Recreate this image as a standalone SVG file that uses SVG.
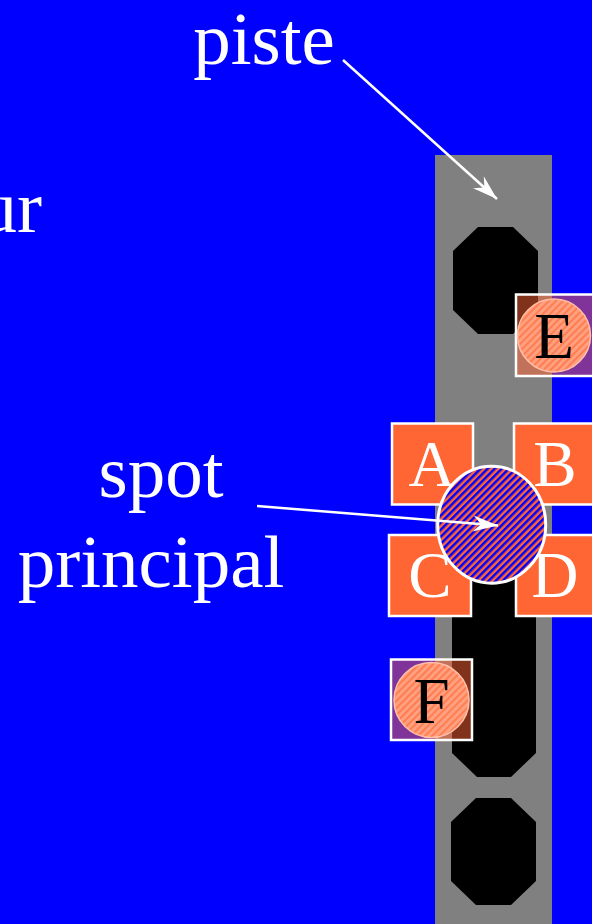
<svg xmlns="http://www.w3.org/2000/svg" width="592" height="924" viewBox="0 0 592 924">
<style>
.lbl{font-family:"Liberation Serif","Times New Roman",serif;fill:#fff;font-size:75px}
.let{font-family:"Liberation Serif","Times New Roman",serif;font-size:65px;text-anchor:middle}
.sq{fill:#ff6633;stroke:#fff;stroke-width:2.5}
.sqt{fill:#ff6633;fill-opacity:0.5;stroke:#fff;stroke-width:2.5}
.pad{fill:#000}
.conn{stroke:#fff;stroke-width:2.5;fill:none;marker-end:url(#ah)}
</style>
<defs>
<pattern id="stripes" width="5" height="5" patternUnits="userSpaceOnUse" patternTransform="rotate(45)">
<rect width="5" height="5" fill="#ff6633"/>
<rect width="2.5" height="5" fill="#0000ff"/>
</pattern>
<pattern id="salmon" width="5" height="5" patternUnits="userSpaceOnUse" patternTransform="rotate(45)">
<rect width="5" height="5" fill="#ffa080"/>
<rect width="1.8" height="5" fill="#ff7a4c"/>
</pattern>
<marker id="ah" markerWidth="28" markerHeight="20" refX="0" refY="0" viewBox="-26 -10 28 20" orient="auto" markerUnits="userSpaceOnUse">
<path d="M0,0 L-25,-8 L-17,0 L-25,8 Z" fill="#fff"/>
</marker>
</defs>
<rect width="592" height="924" fill="#0000ff"/>
<g id="piste-strip">
<rect x="435" y="155" width="117" height="769" fill="#808080"/>
<polygon class="pad" points="478,227 513,227 538,251 538,310 513,334 478,334 453,310 453,251"/>
<polygon class="pad" points="477,480 511,480 536,504 536,753 511,777 477,777 452,753 452,504"/>
<polygon class="pad" points="476,798 511,798 536,822 536,881 511,905 476,905 451,881 451,822"/>
</g>
<g id="E">
<rect class="sqt" x="516" y="294.5" width="81" height="81.5"/>
<circle cx="554" cy="335.5" r="36.5" fill="url(#salmon)" stroke="#ffc0a8" stroke-width="1.5"/>
<text class="let" x="554" y="358" fill="#000">E</text>
</g>
<g id="F">
<rect class="sqt" x="391" y="659.5" width="81" height="80.5"/>
<circle cx="431.5" cy="700" r="37.5" fill="url(#salmon)" stroke="#ffc0a8" stroke-width="1.5"/>
<text class="let" x="431.5" y="723" fill="#000">F</text>
</g>
<g id="A">
<rect class="sq" x="392" y="423.5" width="81" height="81"/>
<text class="let" x="432" y="486" fill="#fff">A</text>
</g>
<g id="B">
<rect class="sq" x="514" y="423.5" width="82" height="81"/>
<text class="let" x="555" y="486" fill="#fff">B</text>
</g>
<g id="C">
<rect class="sq" x="389" y="535" width="82" height="81"/>
<text class="let" x="430" y="597" fill="#fff">C</text>
</g>
<g id="D">
<rect class="sq" x="516" y="535" width="81" height="81"/>
<text class="let" x="555" y="597" fill="#fff">D</text>
</g>
<g id="spot">
<ellipse cx="491.7" cy="524.7" rx="54" ry="58.5" fill="url(#stripes)" stroke="#fff" stroke-width="3"/>
</g>
<g id="labels">
<text class="lbl" x="264" y="64" text-anchor="middle">piste</text>
<text class="lbl" x="161" y="497" text-anchor="middle">spot</text>
<text class="lbl" x="151" y="587" text-anchor="middle">principal</text>
<text class="lbl" x="42" y="232" text-anchor="end">ur</text>
</g>
<g id="connectors">
<line class="conn" x1="343" y1="60" x2="497" y2="199"/>
<line class="conn" x1="257" y1="506" x2="498" y2="525.5"/>
</g>
</svg>
